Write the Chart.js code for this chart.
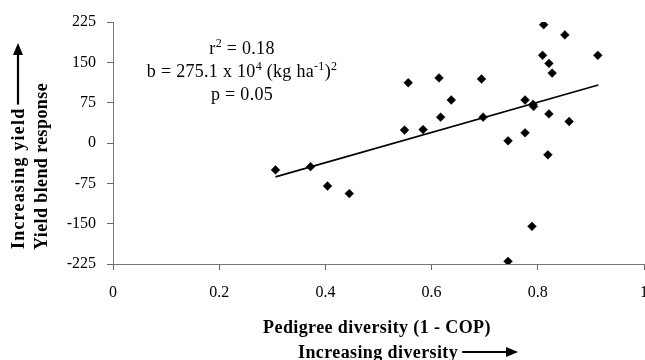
<!DOCTYPE html>
<html><head><meta charset="utf-8">
<script src="https://cdn.jsdelivr.net/npm/chart.js@4/dist/chart.umd.min.js"></script>
<style>html,body{margin:0;padding:0;background:#fff;}canvas{display:block;}</style>
</head><body>
<canvas id="c" width="645" height="360"></canvas>
<script>
// ---- data ----
const diversity = [0.306,0.372,0.404,0.445,0.549,0.556,0.584,0.614,0.617,0.637,0.694,0.697,0.744,0.744,0.776,0.776,0.789,0.791,0.792,0.811,0.809,0.821,0.827,0.821,0.819,0.851,0.859,0.913];
const response  = [-50,-44,-80,-94,24,112,25,121,48,80,119,48,4,-220,80,19,-155,72,68,220,163,148,130,54,-22,201,40,163];
const trendX = [0.306, 0.914];
const trendY = [-63, 108];
const xTickLabels = ['0','0.2','0.4','0.6','0.8','1'];
const yTickLabels = ['-225','-150','-75','0','75','150','225'];
const xTitle = 'Pedigree diversity (1 - COP)';
const xSubTitle = 'Increasing diversity';
const yTitle = 'Yield blend response';
const ySubTitle = 'Increasing yield';
const statLines = [
  [{t:'r'},{t:'2',sup:true},{t:' = 0.18'}],
  [{t:'b = 275.1 x 10'},{t:'4',sup:true},{t:' (kg ha'},{t:'-1',sup:true},{t:')'},{t:'2',sup:true}],
  [{t:'p = 0.05'}]
];

const SERIF = '"Liberation Serif","Times New Roman",serif';

function arrow(ctx, x1, y1, x2, y2) {
  const ang = Math.atan2(y2 - y1, x2 - x1), L = 12, H = 5;
  ctx.beginPath();
  ctx.lineWidth = 2.2;
  ctx.moveTo(x1, y1);
  ctx.lineTo(x2 - L * Math.cos(ang), y2 - L * Math.sin(ang));
  ctx.stroke();
  ctx.beginPath();
  ctx.moveTo(x2, y2);
  ctx.lineTo(x2 - L * Math.cos(ang) - H * Math.sin(ang), y2 - L * Math.sin(ang) + H * Math.cos(ang));
  ctx.lineTo(x2 - L * Math.cos(ang) + H * Math.sin(ang), y2 - L * Math.sin(ang) - H * Math.cos(ang));
  ctx.closePath();
  ctx.fill();
}

const decor = {
  id: 'decor',
  afterDraw(chart) {
    const ctx = chart.ctx;
    const xs = chart.scales.x, ys = chart.scales.y;
    ctx.save();
    ctx.fillStyle = '#000'; ctx.strokeStyle = '#000';
    // statistics block
    const big = '18px ' + SERIF, small = '12px ' + SERIF;
    const cx = xs.getPixelForValue(0.243);
    const baseY0 = ys.getPixelForValue(225) + 32;
    ctx.textBaseline = 'alphabetic'; ctx.textAlign = 'left';
    ctx.letterSpacing = '0.3px';
    statLines.forEach((segs, i) => {
      let w = 0;
      segs.forEach(s => { ctx.font = s.sup ? small : big; w += ctx.measureText(s.t).width; });
      let x = cx - w / 2;
      const by = baseY0 + i * 23;
      segs.forEach(s => {
        ctx.font = s.sup ? small : big;
        ctx.fillText(s.t, x, s.sup ? by - 7 : by);
        x += ctx.measureText(s.t).width;
      });
    });
    // x titles
    ctx.font = 'bold 18px ' + SERIF;
    ctx.letterSpacing = '0.4px';
    ctx.textAlign = 'center';
    ctx.fillText(xTitle, 377, 333);
    ctx.textAlign = 'left';
    ctx.fillText(xSubTitle, 298, 358);
    const wSub = ctx.measureText(xSubTitle).width;
    arrow(ctx, 298 + wSub + 4, 352, 518, 352);
    // y titles
    ctx.save(); ctx.translate(47, 250); ctx.rotate(-Math.PI / 2);
    ctx.fillText(yTitle, 0, 0); ctx.restore();
    ctx.save(); ctx.letterSpacing = '1.2px';
    ctx.translate(24, 249); ctx.rotate(-Math.PI / 2);
    ctx.fillText(ySubTitle, 0, 0);
    const wY = ctx.measureText(ySubTitle).width; ctx.restore();
    arrow(ctx, 18, 249 - wY - 3, 18, 43);
    ctx.restore();
  }
};

new Chart(document.getElementById('c'), {
  type: 'scatter',
  data: {
    datasets: [
      {
        label: 'Blend response',
        data: diversity.map((d, i) => ({x: d, y: response[i]})),
        pointStyle: 'rectRot',
        pointRadius: 4.4,
        pointHoverRadius: 4.4,
        backgroundColor: '#000',
        borderColor: '#000',
        borderWidth: 0.5,
        order: 1
      },
      {
        type: 'line',
        label: 'Regression',
        data: trendX.map((x, i) => ({x: x, y: trendY[i]})),
        borderColor: '#000',
        borderWidth: 1.6,
        pointRadius: 0,
        fill: false,
        order: 2
      }
    ]
  },
  options: {
    responsive: false,
    animation: false,
    devicePixelRatio: 1,
    layout: {autoPadding: false, padding: {top: 22, right: 1, left: 0, bottom: 0}},
    plugins: {legend: {display: false}, tooltip: {enabled: false}},
    scales: {
      x: {
        type: 'linear', min: 0, max: 1,
        ticks: {stepSize: 0.2, color: '#000', font: {family: SERIF, size: 16}, padding: 13,
          maxRotation: 0, autoSkip: false,
          callback: (v, i) => xTickLabels[i]},
        grid: {drawOnChartArea: false, drawTicks: true, tickLength: 6, color: '#666'},
        border: {display: true, color: '#777', width: 1, dash: [5, 2]},
        afterFit: s => { s.height = 96; s.paddingLeft = 0; s.paddingRight = 0; }
      },
      y: {
        type: 'linear', min: -225, max: 225,
        ticks: {stepSize: 75, color: '#000', font: {family: SERIF, size: 16}, padding: 11,
          callback: (v, i) => yTickLabels[i]},
        grid: {drawOnChartArea: false, drawTicks: true, tickLength: 6, color: '#666'},
        border: {display: true, color: '#777', width: 1, dash: [5, 2]},
        afterFit: s => { s.width = 113; s.paddingTop = 0; s.paddingBottom = 0; }
      }
    }
  },
  plugins: [decor]
});
</script>
</body></html>
